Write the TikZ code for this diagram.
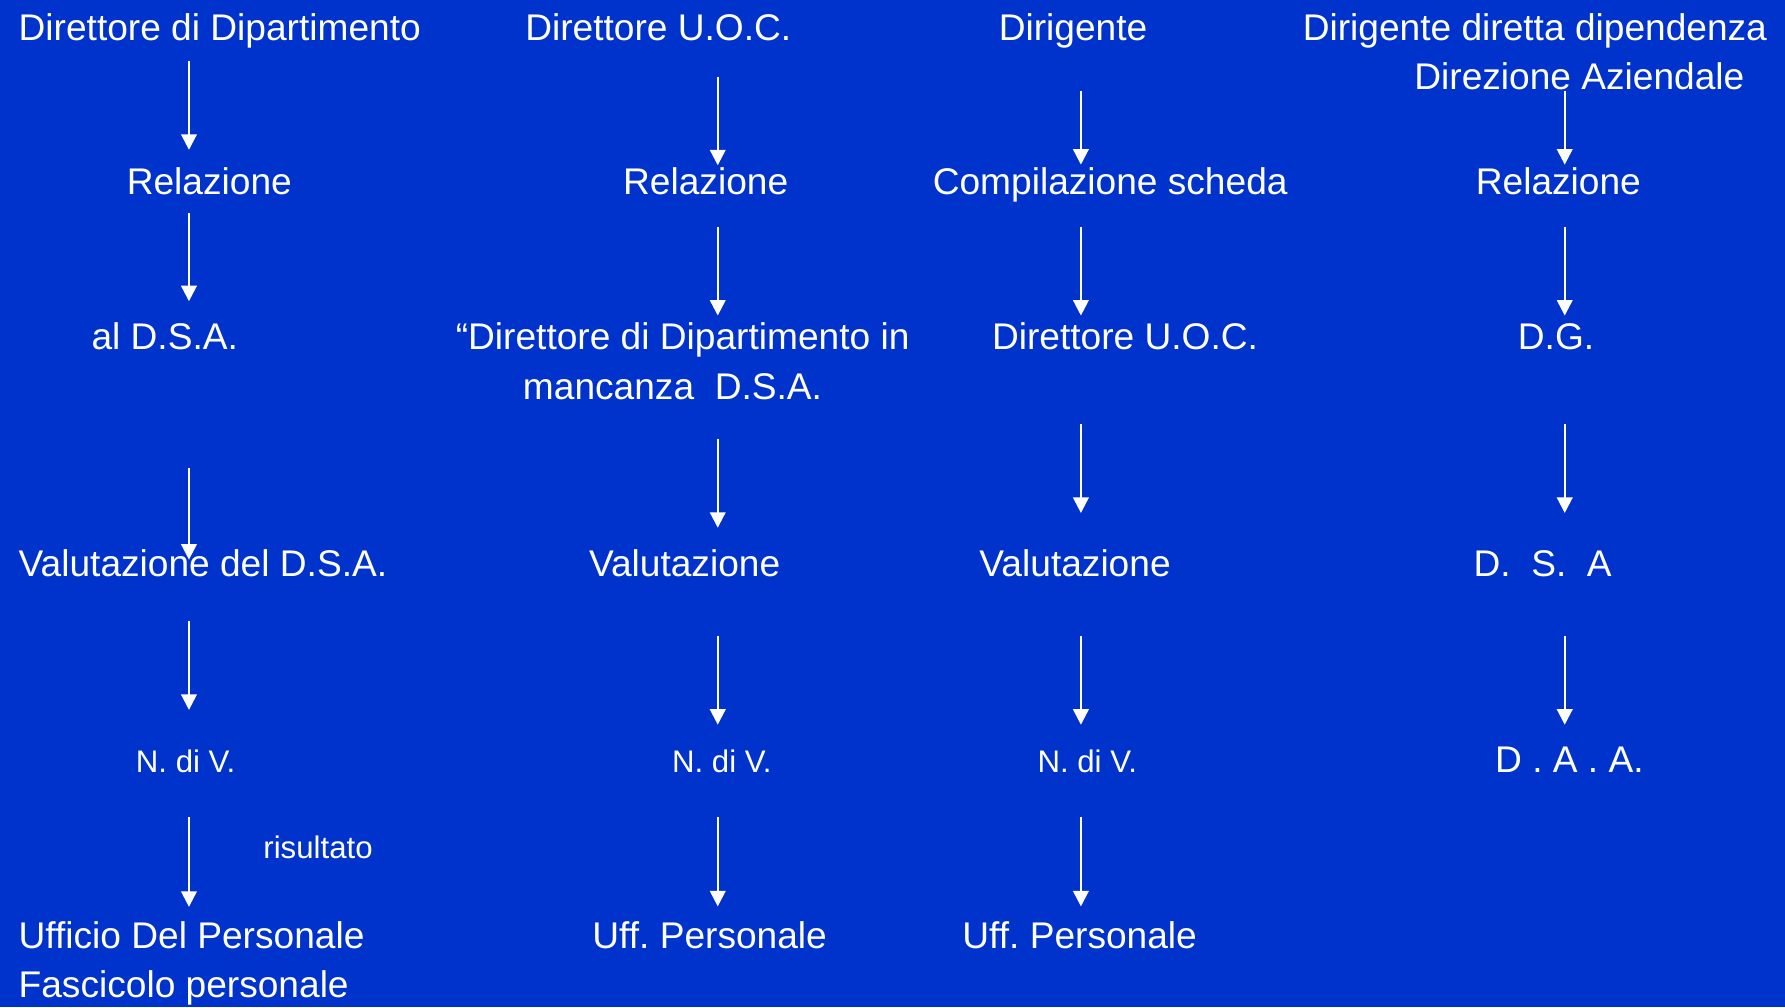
\documentclass[tikz,border=0pt]{standalone}
\usepackage{fontspec}
\setmainfont{Liberation Sans}
\usetikzlibrary{arrows.meta}
\definecolor{slideblue}{RGB}{0,51,204}
\frenchspacing

\begin{document}
\begin{tikzpicture}[
    x=0.5pt, y=-0.5pt,
    lbl/.style={text=white, inner sep=0pt, anchor=base west,
                font=\fontsize{16.3pt}{19.6pt}\selectfont,
                text height=12.2pt, text depth=3.4pt},
    small/.style={lbl, font=\fontsize{13.7pt}{16.4pt}\selectfont,
                  text height=10.3pt, text depth=2.9pt},
    flow/.style={draw=white, line width=1pt,
                 -{Triangle[length=6.8pt, width=6.8pt]}},
]
% slide background
\fill[slideblue] (0,0) rectangle (1568,885);
\coordinate (k1) at (166,0);
\coordinate (k2) at (630.5,0);
\coordinate (k3) at (949.5,0);
\coordinate (k4) at (1374.5,0);

% column 1: Direttore di Dipartimento
\node[lbl] (top1) at (16,36) {Direttore di Dipartimento};
\node[lbl] (rel1) at (111,171) {Relazione};
\node[lbl] (dsa1) at (80,307) {al D.S.A.};
\node[lbl] (val1) at (16,506) {Valutazione del D.S.A.};
\node[small] (ndv1) at (119,679) {N. di V.};
\node[small] (ris1) at (231,754) {risultato};
\node[lbl] (uff1) at (16,833) {Ufficio Del Personale};
\node[lbl] (fas1) at (16,876) {Fascicolo personale};
\draw[flow, shorten <=5.1pt, shorten >=7.3pt] (top1.south -| k1) -- (rel1.north -| k1);
\draw[flow, shorten <=4.6pt, shorten >=8.8pt] (rel1.south -| k1) -- (dsa1.north -| k1);
\draw[flow, shorten <=48.6pt, shorten >=-5.2pt] (dsa1.south -| k1) -- (val1.north -| k1);
\draw[flow, shorten <=16.1pt, shorten >=17.2pt] (val1.south -| k1) -- (ndv1.north -| k1);
\draw[flow, shorten <=16.1pt, shorten >=5.8pt] (ndv1.south -| k1) -- (uff1.north -| k1);

% column 2: Direttore U.O.C.
\node[lbl] (top2) at (461,36) {Direttore U.O.C.};
\node[lbl] (rel2) at (547,171) {Relazione};
\node[lbl] (dd2) at (400,307) {“Direttore di Dipartimento in};
\node[lbl] (mz2) at (459,351) {mancanza~~D.S.A.};
\node[lbl] (val2) at (517,506) {Valutazione};
\node[small] (ndv2) at (590,679) {N. di V.};
\node[lbl] (uff2) at (520,833) {Uff. Personale};
\draw[flow, shorten <=12.1pt, shorten >=0.5pt] (top2.south -| k2) -- (rel2.north -| k2);
\draw[flow, shorten <=10.6pt, shorten >=2.5pt] (rel2.south -| k2) -- (dd2.north -| k2);
\draw[flow, shorten <=13.6pt, shorten >=8.8pt] (mz2.south -| k2) -- (val2.north -| k2);
\draw[flow, shorten <=22.6pt, shorten >=10.7pt] (val2.south -| k2) -- (ndv2.north -| k2);
\draw[flow, shorten <=16.1pt, shorten >=6pt] (ndv2.south -| k2) -- (uff2.north -| k2);

% column 3: Dirigente
\node[lbl] (top3) at (877,36) {Dirigente};
\node[lbl] (comp3) at (819,171) {Compilazione scheda};
\node[lbl] (uoc3) at (871,307) {Direttore U.O.C.};
\node[lbl] (val3) at (860,506) {Valutazione};
\node[small] (ndv3) at (911,679) {N. di V.};
\node[lbl] (uff3) at (845,833) {Uff. Personale};
\draw[flow, shorten <=18.4pt, shorten >=0.8pt] (top3.south -| k3) -- (comp3.north -| k3);
\draw[flow, shorten <=10.6pt, shorten >=2.5pt] (comp3.south -| k3) -- (uoc3.north -| k3);
\draw[flow, shorten <=29.1pt, shorten >=15.3pt] (uoc3.south -| k3) -- (val3.north -| k3);
\draw[flow, shorten <=22.6pt, shorten >=10.7pt] (val3.south -| k3) -- (ndv3.north -| k3);
\draw[flow, shorten <=16.1pt, shorten >=6pt] (ndv3.south -| k3) -- (uff3.north -| k3);

% column 4: Dirigente diretta dipendenza
\node[lbl] (top4) at (1144,36) {Dirigente diretta dipendenza};
\node[lbl] (daz4) at (1242,79) {Direzione Aziendale};
\node[lbl] (rel4) at (1296,171) {Relazione};
\node[lbl] (dg4) at (1333,307) {D.G.};
\node[lbl] (dsa4) at (1294,506) {D.~~S.~~A};
\node[lbl] (daa4) at (1313,679) {D . A . A.};
\draw[flow, shorten <=-3.1pt, shorten >=0.8pt] (daz4.south -| k4) -- (rel4.north -| k4);
\draw[flow, shorten <=10.6pt, shorten >=2.5pt] (rel4.south -| k4) -- (dg4.north -| k4);
\draw[flow, shorten <=29.1pt, shorten >=15.3pt] (dg4.south -| k4) -- (dsa4.north -| k4);
\draw[flow, shorten <=22.6pt, shorten >=8.8pt] (dsa4.south -| k4) -- (daa4.north -| k4);
\end{tikzpicture}
\end{document}
